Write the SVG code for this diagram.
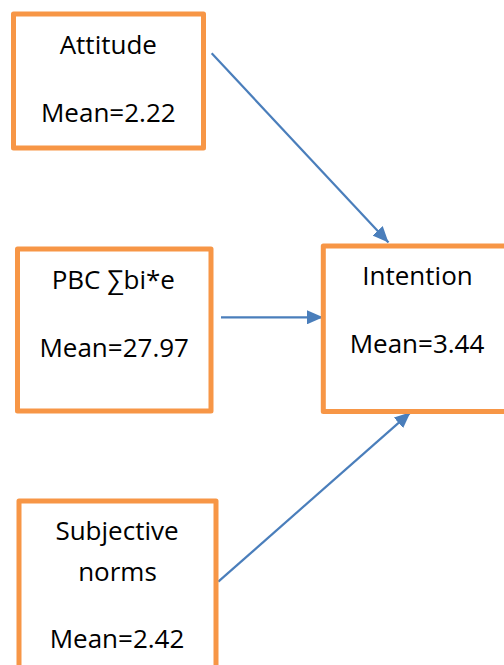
<svg xmlns="http://www.w3.org/2000/svg" width="504" height="665" viewBox="0 0 504 665">
  <style>
    .box { fill: #ffffff; stroke: #F79646; stroke-width: 5; stroke-linejoin: round; }
    .lbl { font-family: "Open Sans", "DejaVu Sans", sans-serif; font-size: 26px; fill: #000000; text-anchor: middle; }
    .link { stroke: #4A7EBB; stroke-width: 2.2; fill: none; marker-end: url(#head); }
  </style>
  <defs>
    <marker id="head" markerUnits="userSpaceOnUse" viewBox="0 0 16 14" refX="16" refY="7" markerWidth="16" markerHeight="14" orient="auto">
      <path d="M0,0 L16,7 L0,14 Z" fill="#4A7EBB"/>
    </marker>
  </defs>
  <rect width="504" height="665" fill="#ffffff"/>

  <g id="connectors">
    <line class="link" x1="211.7" y1="53.3" x2="388.5" y2="242.5"/>
    <line class="link" x1="221" y1="317.3" x2="323" y2="317.3"/>
    <line class="link" x1="218.3" y1="581.7" x2="410.5" y2="412.3"/>
  </g>

  <g id="attitude">
    <rect class="box" x="13.5" y="14" width="190" height="134"/>
    <text class="lbl" x="108.3" y="54">Attitude</text>
    <text class="lbl" x="108.3" y="121.7">Mean=2.22</text>
  </g>

  <g id="pbc">
    <rect class="box" x="17.5" y="249" width="193.5" height="162"/>
    <text class="lbl" x="113.3" y="289.3">PBC ∑bi*e</text>
    <text class="lbl" x="114.2" y="356.7">Mean=27.97</text>
  </g>

  <g id="intention">
    <rect class="box" x="323.3" y="246" width="200" height="165.5"/>
    <text class="lbl" x="417.5" y="285">Intention</text>
    <text class="lbl" x="417" y="353.3">Mean=3.44</text>
  </g>

  <g id="subjective-norms">
    <rect class="box" x="19" y="501" width="197" height="190"/>
    <text class="lbl" x="117" y="540">Subjective</text>
    <text class="lbl" x="117.5" y="580.7">norms</text>
    <text class="lbl" x="117" y="648.3">Mean=2.42</text>
  </g>
</svg>
